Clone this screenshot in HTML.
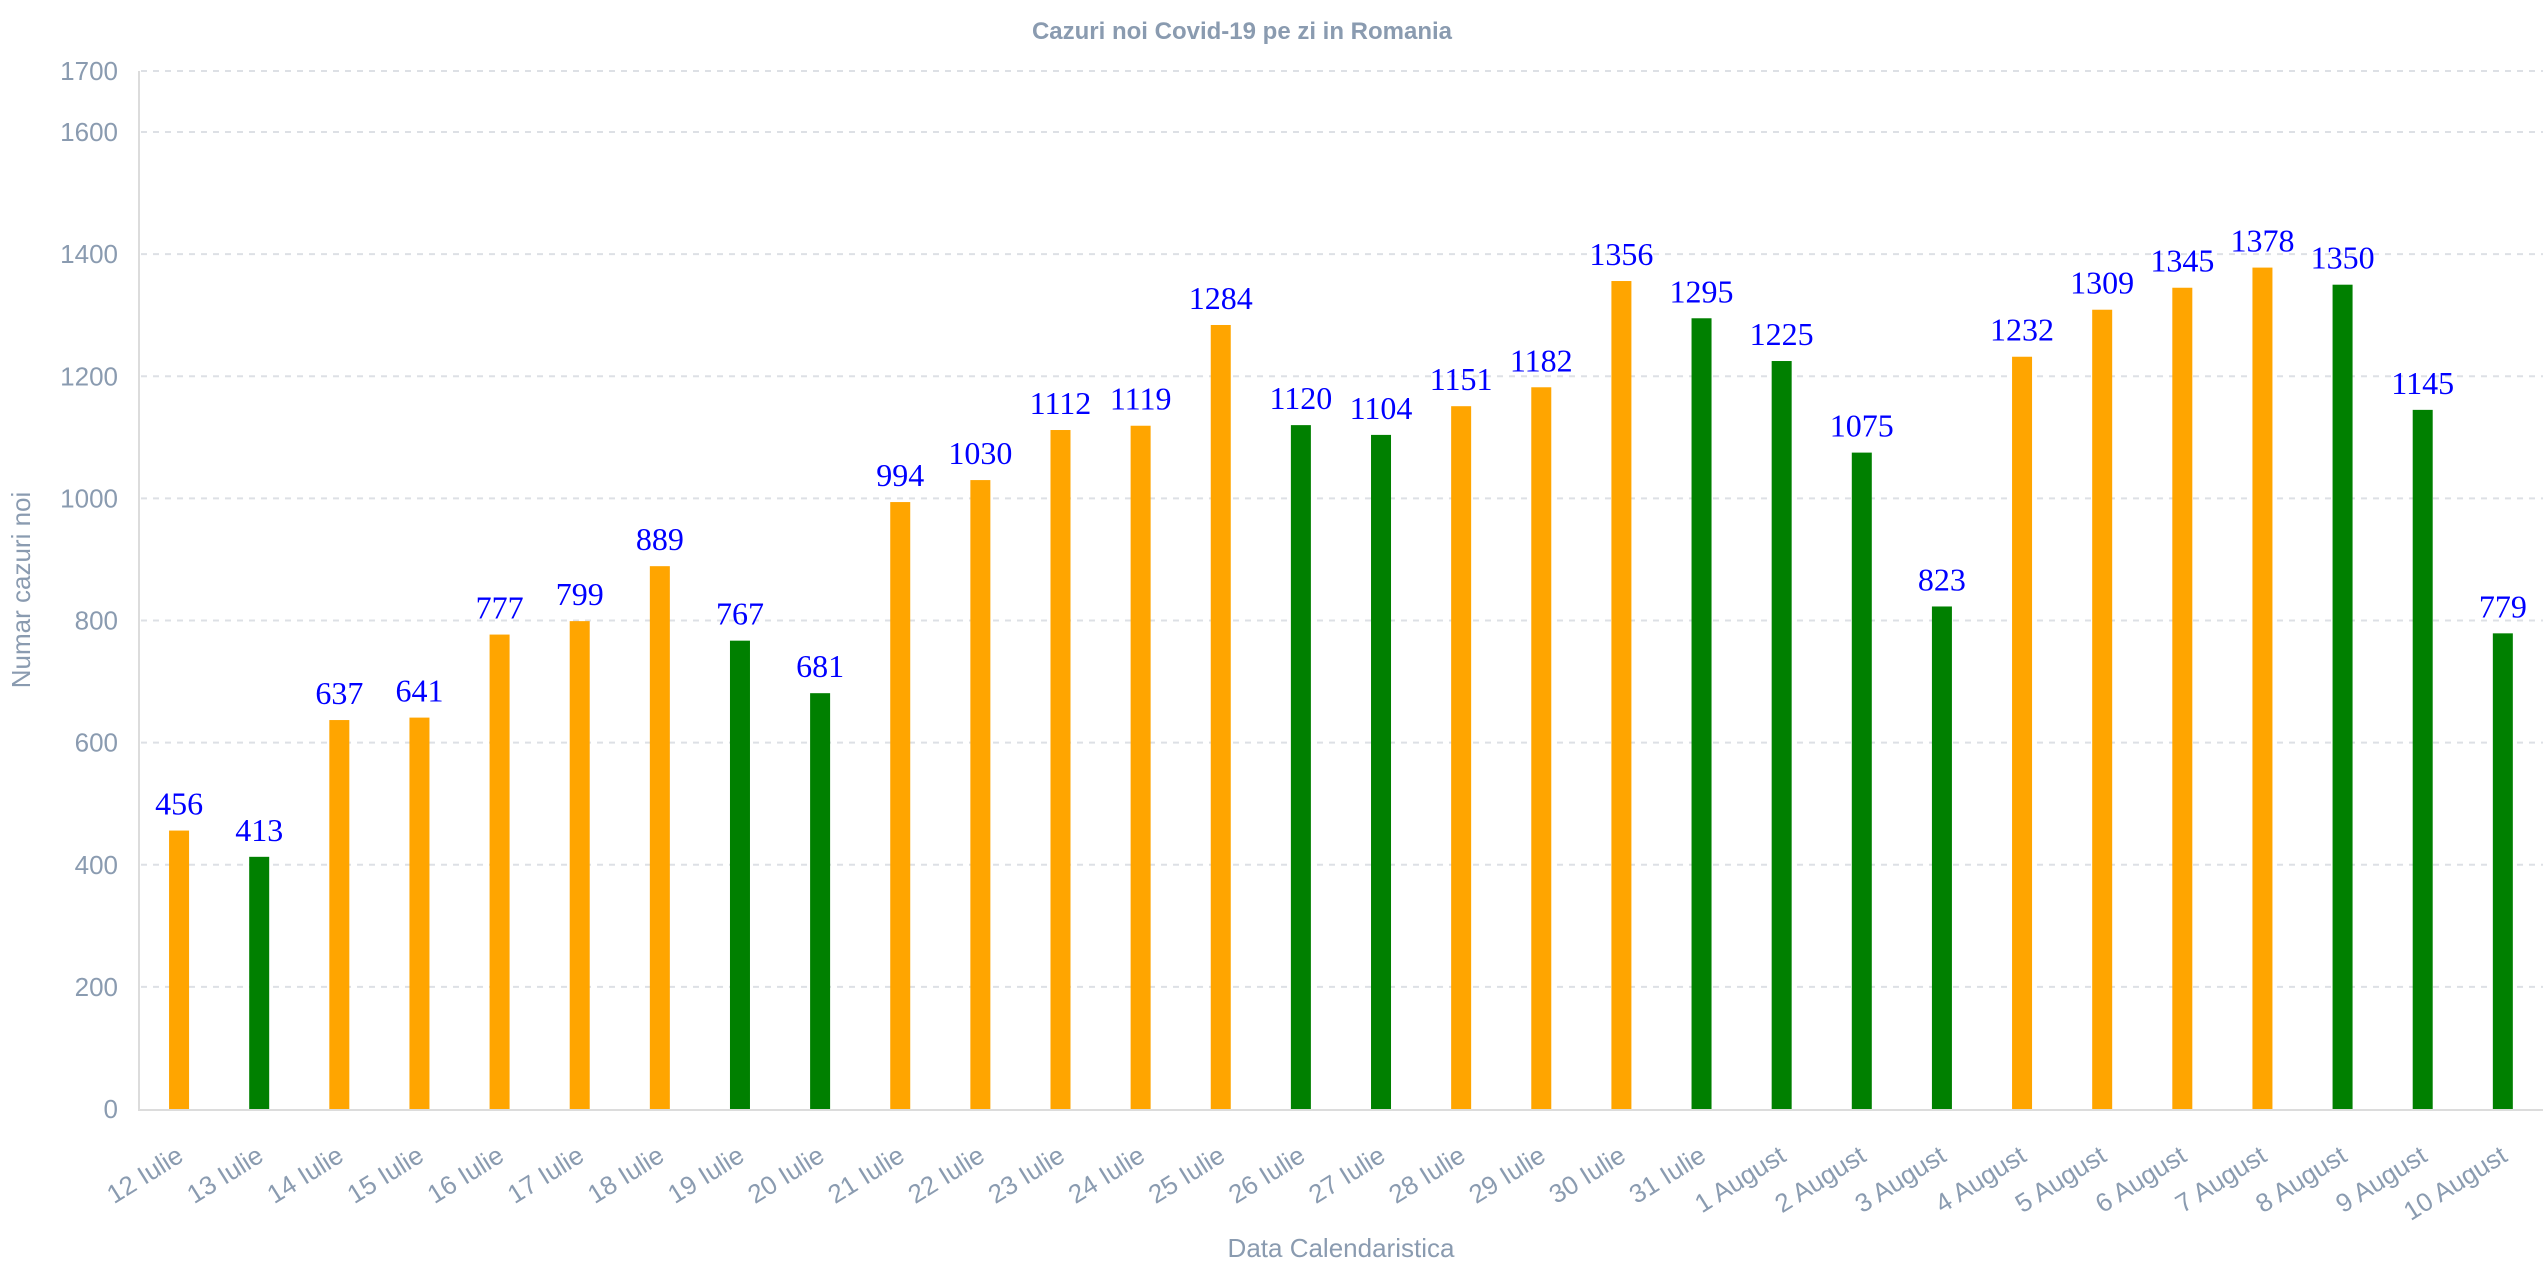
<!DOCTYPE html>
<html><head><meta charset="utf-8"><style>body{margin:0;background:#fff}svg{display:block}</style></head>
<body>
<svg id="s" width="2548" height="1274" xmlns="http://www.w3.org/2000/svg" font-family="Liberation Sans, sans-serif">
<text x="1242" y="39" text-anchor="middle" font-size="24" font-weight="bold" fill="#8a9bb0">Cazuri noi Covid-19 pe zi in Romania</text>
<g id="grid"></g>
<line x1="139" y1="71" x2="139" y2="1110" stroke="#dcdcdc" stroke-width="2"/>
<line x1="138" y1="1110" x2="2543" y2="1110" stroke="#dcdcdc" stroke-width="2"/>
<g id="bars"></g>
<text transform="translate(30,590) rotate(-90)" text-anchor="middle" font-size="26" fill="#8a9bb0">Numar cazuri noi</text>
<text x="1341" y="1257" text-anchor="middle" font-size="26" fill="#8a9bb0">Data Calendaristica</text>
</svg>
<script>
var ns="http://www.w3.org/2000/svg",g=document.getElementById('grid'),b=document.getElementById('bars');
function el(p,t,a,txt){var e=document.createElementNS(ns,t);for(var k in a)e.setAttribute(k,a[k]);if(txt!=null)e.textContent=txt;p.appendChild(e);return e;}
function Y(v){return 1109-v*0.6106;}
[0,200,400,600,800,1000,1200,1400,1600,1700].forEach(function(v){
 if(v>0)el(g,'line',{x1:141,x2:2543,y1:Y(v),y2:Y(v),stroke:'#dde0e5','stroke-width':2,'stroke-dasharray':'6,6'});
 el(g,'text',{x:118,y:Y(v)+9,'text-anchor':'end','font-size':26,fill:'#8a9bb0'},v);
});
var d=[[456,'o'],[413,'g'],[637,'o'],[641,'o'],[777,'o'],[799,'o'],[889,'o'],[767,'g'],[681,'g'],[994,'o'],[1030,'o'],[1112,'o'],[1119,'o'],[1284,'o'],[1120,'g'],[1104,'g'],[1151,'o'],[1182,'o'],[1356,'o'],[1295,'g'],[1225,'g'],[1075,'g'],[823,'g'],[1232,'o'],[1309,'o'],[1345,'o'],[1378,'o'],[1350,'g'],[1145,'g'],[779,'g']];
var labs=[];for(var i=12;i<=31;i++)labs.push(i+' Iulie');for(i=1;i<=10;i++)labs.push(i+' August');
d.forEach(function(p,i){
 var cx=139+(i+0.5)*80.13,y=Y(p[0]);
 el(b,'rect',{x:cx-10,y:y,width:20,height:1109-y,fill:p[1]=='o'?'#FFA500':'#008000'});
 el(b,'text',{x:cx,y:y-16,'text-anchor':'middle','font-size':32,fill:'#0000ff','font-family':'Liberation Serif, serif'},p[0]);
 el(b,'text',{transform:'translate('+(cx+6)+',1160) rotate(-32)','text-anchor':'end','font-size':26,fill:'#8a9bb0'},labs[i]);
});
</script>
</body></html>
